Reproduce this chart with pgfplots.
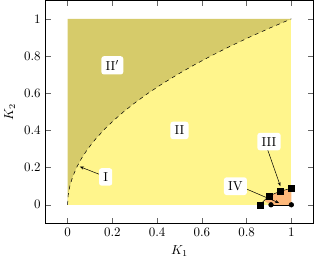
\documentclass[border=0pt]{standalone}
\usepackage{pgfplots}
\pgfplotsset{compat=1.18}
\usetikzlibrary{arrows.meta}
\definecolor{lightyel}{RGB}{255,245,140}
\definecolor{darkyel}{RGB}{214,203,106}
\definecolor{peach}{RGB}{253,184,122}
\begin{document}
\begin{tikzpicture}
\begin{axis}[
  width=207pt, height=172pt, scale only axis,
  xmin=-0.1, xmax=1.1, ymin=-0.1, ymax=1.1,
  xtick={0,0.2,0.4,0.6,0.8,1}, ytick={0,0.2,0.4,0.6,0.8,1},
  xlabel={$K_1$}, ylabel={$K_2$},
  axis on top,
  tick style={black!60},
  label style={font=\normalsize},
]
% light region
\addplot[fill=lightyel, draw=none] coordinates {(0,0) (1,0) (1,1) (0,1)} -- cycle;
% dark region above curve
\addplot[fill=darkyel, draw=none] coordinates {
 (0,0) (0.0025,0.05) (0.01,0.1) (0.0225,0.15) (0.04,0.2) (0.0625,0.25)
 (0.09,0.3) (0.1225,0.35) (0.16,0.4) (0.2025,0.45) (0.25,0.5) (0.3025,0.55)
 (0.36,0.6) (0.4225,0.65) (0.49,0.7) (0.5625,0.75) (0.64,0.8) (0.7225,0.85)
 (0.81,0.9) (0.9025,0.95) (1,1) (0,1)} -- cycle;
% dashed boundary
\addplot[black, dashed, thin] coordinates {
 (0,0) (0.0025,0.05) (0.01,0.1) (0.0225,0.15) (0.04,0.2) (0.0625,0.25)
 (0.09,0.3) (0.1225,0.35) (0.16,0.4) (0.2025,0.45) (0.25,0.5) (0.3025,0.55)
 (0.36,0.6) (0.4225,0.65) (0.49,0.7) (0.5625,0.75) (0.64,0.8) (0.7225,0.85)
 (0.81,0.9) (0.9025,0.95) (1,1)};
% orange region
\addplot[fill=peach, draw=none] coordinates {(0.88,0.02) (0.9,0.048) (0.951,0.073) (1,0.089) (1,0) (0.909,0) (0.895,0.01)} -- cycle;
% squares
\addplot[black, thin, mark=square*, mark size=2.3pt] coordinates {(0.859,0) (0.9,0.048) (0.951,0.073) (1,0.089)};
% circles
\addplot[black, thin, mark=*, mark size=1.8pt] coordinates {(0.909,0) (1,0)};
% labels and arrows
\draw[-{Stealth[length=3pt]}, black] (axis cs:0.15,0.16) -- (axis cs:0.055,0.205);
\draw[-{Stealth[length=3pt]}, black] (axis cs:0.89,0.31) -- (axis cs:0.951,0.1);
\draw[-{Stealth[length=3pt]}, black] (axis cs:0.77,0.1) -- (axis cs:0.945,0.01);
\node[fill=white, rounded corners=2pt, inner sep=3.3pt] at (axis cs:0.2,0.75) {II$'$};
\node[fill=white, rounded corners=2pt, inner sep=3.3pt] at (axis cs:0.5,0.4) {II};
\node[fill=white, rounded corners=2pt, inner sep=3.3pt] at (axis cs:0.17,0.15) {I};
\node[fill=white, rounded corners=2pt, inner sep=3.3pt] at (axis cs:0.9,0.34) {III};
\node[fill=white, rounded corners=2pt, inner sep=3.3pt] at (axis cs:0.75,0.1) {IV};
\end{axis}
\end{tikzpicture}
\end{document}
